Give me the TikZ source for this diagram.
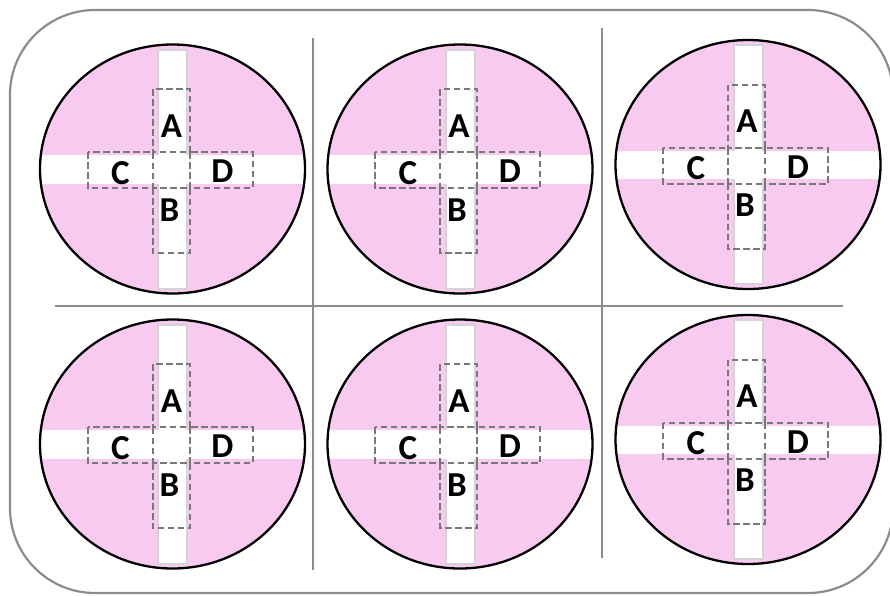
\documentclass[tikz,border=0pt]{standalone}
\usepackage{fontspec}
\setmainfont{Carlito}
\definecolor{wellpink}{RGB}{248,202,240}
\definecolor{framegray}{RGB}{140,140,140}
\definecolor{zonegray}{RGB}{120,120,120}
\definecolor{stripgray}{RGB}{212,212,212}

\begin{document}
\begin{tikzpicture}[x=1pt,y=-1pt,
    zone/.style={draw=zonegray, line width=2pt, dash pattern=on 6.5pt off 3.5pt},
    letter/.style={font=\fontsize{35}{37}\selectfont\bfseries, inner sep=0pt}]
    \useasboundingbox (0,0) rectangle (890,595);

    % Cadre
    \draw[framegray, line width=2.2pt, rounded corners=85pt] (10,10) rectangle (893,593);

    % Separations
    \draw[framegray, line width=1.6pt] (313,38) -- (313,570);
    \draw[framegray, line width=1.6pt] (602,28) -- (602,558);
    \draw[framegray, line width=1.6pt] (55,306) -- (843,306);

    % Puits
    \foreach \cx/\cy/\n in {172.5/169/1, 460/169/2, 748/164.5/3,
                            172.5/444/4, 460/444/5, 748/439.5/6} {
        \coordinate (well\n) at (\cx,\cy);
        \begin{scope}[shift={(\cx,\cy)}]
            \fill[wellpink] (0,0) ellipse [x radius=132.5, y radius=124.5];
            % bande verticale
            \draw[stripgray, fill=white, line width=2pt] (-14.5,-119.5) rectangle (14.5,119.5);
            % bande horizontale
            \begin{scope}
                \clip (0,0) ellipse [x radius=132.5, y radius=124.5];
                \fill[white] (-140,-14) rectangle (140,14.5);
            \end{scope}
            \draw[line width=2.3pt] (0,0) ellipse [x radius=132.5, y radius=124.5];
            % Zones
            \draw[zone] (-20,-80) rectangle (17,-17); % A
            \draw[zone] (-20,19) rectangle (17,84);   % B
            \draw[zone] (-85,-17) rectangle (-20,19); % C
            \draw[zone] (17,-17) rectangle (80,19);   % D
            \node[letter] (A\n) at (-1,-43) {A};
            \node[letter] (B\n) at (-3,41) {B};
            \node[letter] (C\n) at (-52,4) {C};
            \node[letter] (D\n) at (50,2.5) {D};
        \end{scope}
    }
\end{tikzpicture}
\end{document}
